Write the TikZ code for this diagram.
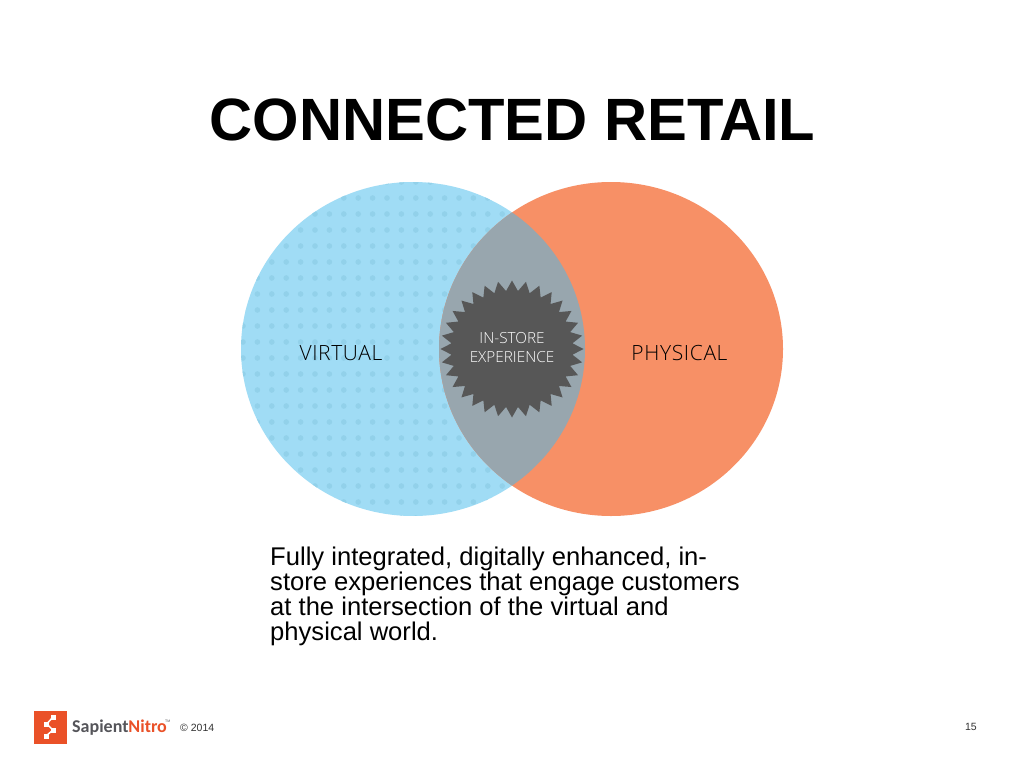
\documentclass[tikz,border=0pt]{standalone}
\usepackage{fontspec}
\setmainfont{Liberation Sans}
\newfontfamily\labelfont{Open Sans Light}
\newfontfamily\vennfont[LetterSpace=3]{Open Sans Light}
\newfontfamily\logofont{Carlito}
\definecolor{skyfill}{HTML}{A0DCF5}
\definecolor{skydot}{HTML}{92D1EA}
\definecolor{coral}{HTML}{F79066}
\definecolor{lens}{HTML}{98A6AE}
\definecolor{starfill}{HTML}{575757}
\definecolor{logored}{HTML}{EA5128}
\definecolor{logogray}{HTML}{55555A}
\tikzset{
  x=1pt,y=-1pt,
  title/.style={font=\fontsize{59.7}{60}\selectfont\bfseries,inner sep=0pt},
  vennlabel/.style={font=\vennfont\fontsize{21}{21}\selectfont,text=black,inner sep=0pt},
  starlabel/.style={font=\labelfont\fontsize{15.3}{19}\selectfont,text=white,align=center,inner sep=0pt},
  body/.style={font=\fontsize{25.6}{25.2}\selectfont,align=left,inner sep=0pt,anchor=north west},
  small/.style={font=\fontsize{10.5}{10.5}\selectfont,inner sep=0pt,text=black!80},
}
\begin{document}
\begin{tikzpicture}
\useasboundingbox (0,0) rectangle (1024,768);
\fill[white] (0,0) rectangle (1024,768);
\node[title] (title) at (512.5,120) {CONNECTED RETAIL};
% left circle with dots
\begin{scope}
  \clip (413,349) ellipse [x radius=172,y radius=167];
  \fill[skyfill] (241,182) rectangle (585,516);
  \foreach \i in {0,...,24}{
    \foreach \j in {0,...,21}{
      \fill[skydot] ({243+14.4*\i},{182+16*\j}) circle (2.8);
    }
  }
\end{scope}
% right circle
\fill[coral] (611,349) ellipse [x radius=172,y radius=167];
% intersection
\begin{scope}
  \clip (413,349) ellipse [x radius=172,y radius=167];
  \fill[lens] (611,349) ellipse [x radius=172,y radius=167];
\end{scope}
% burst
\fill[starfill] plot[samples at={0,5.625,...,354.4}] ({512+71.5*(0.925+0.075*cos(32*\x))*cos(\x+90)},{349+68.5*(0.925+0.075*cos(32*\x))*sin(\x+90)}) -- cycle;
\node[starlabel] (instore) at (512,348) {IN-STORE\\EXPERIENCE};
\node[vennlabel] (virtual) at (341,353) {VIRTUAL};
\node[vennlabel] (physical) at (679.5,353) {PHYSICAL};
\node[body] (desc) at (270,546.5) {Fully integrated, digitally enhanced, in-\\store experiences that engage customers\\at the intersection of the virtual and\\physical world.};
% logo
\fill[logored] (34,711) rectangle (67,743.5);
\draw[white,line width=1.5pt] (53,717) -- (46.7,724) -- (53,730) -- (46,736);
\foreach \p in {(53,717),(46.7,724),(53,730),(46,736)}
  \fill[white] \p ++(-2.5,-2.5) rectangle ++(5,5);
\node[font=\logofont\bfseries\fontsize{18}{20}\selectfont,inner sep=0pt,anchor=west] (logo) at (72,727.5) {\textcolor{logogray}{Sapient}\textcolor{logored}{Nitro}};
\node[font=\fontsize{3.5}{4}\selectfont,inner sep=0pt,text=logogray,anchor=west] (tm) at (165,721) {TM};
\node[small,anchor=west] (copy) at (180,728) {© 2014};
\node[small,anchor=east] (page) at (977,727) {15};
\end{tikzpicture}
\end{document}
